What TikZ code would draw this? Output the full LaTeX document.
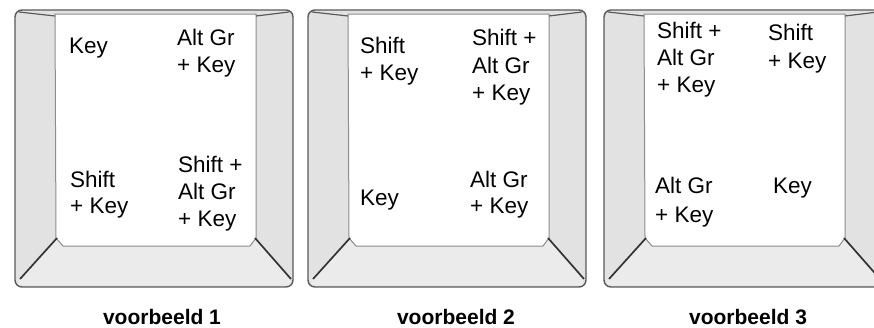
\documentclass[tikz,border=0pt]{standalone}
\usepackage{fontspec}
\setmainfont{Liberation Sans}
\definecolor{bevel}{HTML}{E2E2E2}
\definecolor{bottombevel}{HTML}{EBEBEB}
\definecolor{keyedge}{HTML}{5A5A5A}
\definecolor{faceedge}{HTML}{8C8C8C}
\definecolor{diagcol}{HTML}{333333}
\newcommand\drawkey[1]{%
  \begin{scope}[xshift=#1]
    \fill[bevel, rounded corners=7pt] (15,10) rectangle (293,287);
    \fill[bottombevel] (57,238) -- (63,246) -- (250,246) -- (255,238) -- (290,279) -- (290,285) -- (18,285) -- (18,279) -- cycle;
    \draw[outerkey] (15,10) rectangle (293,287);
    \draw[face] (55,14) -- (256,14) -- (256,238) -- (250,246) -- (63,246) -- (56,238) -- cycle;
    \draw[diag] (57,238) -- (20,279);
    \draw[diag] (255,238) -- (291,279);
    \draw[topline] (55,16) -- (19,12);
    \draw[topline] (256,16) -- (289,12);
  \end{scope}}
\begin{document}
\begin{tikzpicture}[x=1pt,y=-1pt,
  keytxt/.style={anchor=base west, inner sep=0pt, font=\fontsize{22.5}{26}\selectfont},
  caption/.style={anchor=base, inner sep=0pt, font=\fontsize{21}{25}\selectfont\bfseries},
  outerkey/.style={draw=keyedge, line width=1.4pt, rounded corners=7pt},
  face/.style={fill=white, draw=faceedge, line width=1pt},
  diag/.style={draw=diagcol, line width=1.7pt},
  topline/.style={draw=keyedge, line width=1.2pt}]
\useasboundingbox (0,0) rectangle (874,327);
\fill[white] (0,0) rectangle (874,327);
\begin{scope}
\clip (0,0) rectangle (874,327);
\drawkey{0pt}
\drawkey{293pt}
\drawkey{589pt}
\end{scope}
% key 1
\node[keytxt] (k1a) at (69,53) {Key};
\node[keytxt] (k1b1) at (177,45) {Alt Gr};
\node[keytxt] (k1b2) at (177,72) {+ Key};
\node[keytxt] (k1c1) at (70,187) {Shift};
\node[keytxt] (k1c2) at (70,213) {+ Key};
\node[keytxt] (k1d1) at (178,172) {Shift +};
\node[keytxt] (k1d2) at (178,199) {Alt Gr};
\node[keytxt] (k1d3) at (178,226) {+ Key};
% key 2
\node[keytxt] (k2a1) at (360,53) {Shift};
\node[keytxt] (k2a2) at (360,80) {+ Key};
\node[keytxt] (k2b1) at (472,45) {Shift +};
\node[keytxt] (k2b2) at (472,73) {Alt Gr};
\node[keytxt] (k2b3) at (472,100) {+ Key};
\node[keytxt] (k2c) at (360,205) {Key};
\node[keytxt] (k2d1) at (470,187) {Alt Gr};
\node[keytxt] (k2d2) at (470,213) {+ Key};
% key 3
\node[keytxt] (k3a1) at (657,38) {Shift +};
\node[keytxt] (k3a2) at (657,65) {Alt Gr};
\node[keytxt] (k3a3) at (657,92) {+ Key};
\node[keytxt] (k3b1) at (768,40) {Shift};
\node[keytxt] (k3b2) at (768,68) {+ Key};
\node[keytxt] (k3c1) at (655,193) {Alt Gr};
\node[keytxt] (k3c2) at (655,222) {+ Key};
\node[keytxt] (k3d) at (773,193) {Key};
% captions
\node[caption] (c1) at (162,324) {voorbeeld 1};
\node[caption] (c2) at (456,324) {voorbeeld 2};
\node[caption] (c3) at (748,324) {voorbeeld 3};
\end{tikzpicture}
\end{document}
